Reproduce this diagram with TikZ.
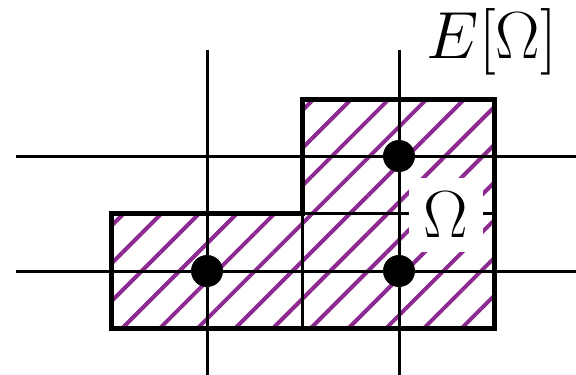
\RequirePackage{fix-cm}
\documentclass[tikz,border=0pt]{standalone}
\usetikzlibrary{patterns.meta}
\definecolor{Hatch}{HTML}{8C2A92}

\begin{document}
\begin{tikzpicture}[x=0.75pt, y=-0.75pt,
    grid/.style={line width=2.25pt},
    border/.style={line width=3.75pt, line join=miter},
    knot/.style={circle, fill=black, inner sep=0pt, minimum size=24pt},
    lab/.style={inner sep=0pt, font=\fontsize{50}{56}\selectfont}]

    \useasboundingbox (0,0) rectangle (576,375);

    % hatched domain
    \fill[pattern={Lines[angle=45, distance=20pt, line width=3pt]}, pattern color=Hatch]
        (111,213) -- (111,328) -- (494,328) -- (494,99) -- (302,99) -- (302,213) -- cycle;

    \foreach \x in {207,399} {
        \draw[grid] (\x,50) -- (\x,375);
    }
    \foreach \y in {156,271} {
        \draw[grid] (16,\y) -- (576,\y);
    }
    \draw[grid] (302,213) -- (302,328);
    \draw[grid] (302,213) -- (494,213);

    \node[lab, fill=white, minimum width=55pt, minimum height=55pt] (omega) at (446,215) {$\Omega$};

    \draw[border] (111,213) -- (111,328) -- (494,328) -- (494,99) -- (302,99) -- (302,213) -- cycle;

    \node[lab, anchor=base] (ext) at (492,58) {$E[\Omega]$};

    \node[knot] (p1) at (399,156) {};
    \node[knot] (p2) at (207,271) {};
    \node[knot] (p3) at (399,271) {};
\end{tikzpicture}
\end{document}
